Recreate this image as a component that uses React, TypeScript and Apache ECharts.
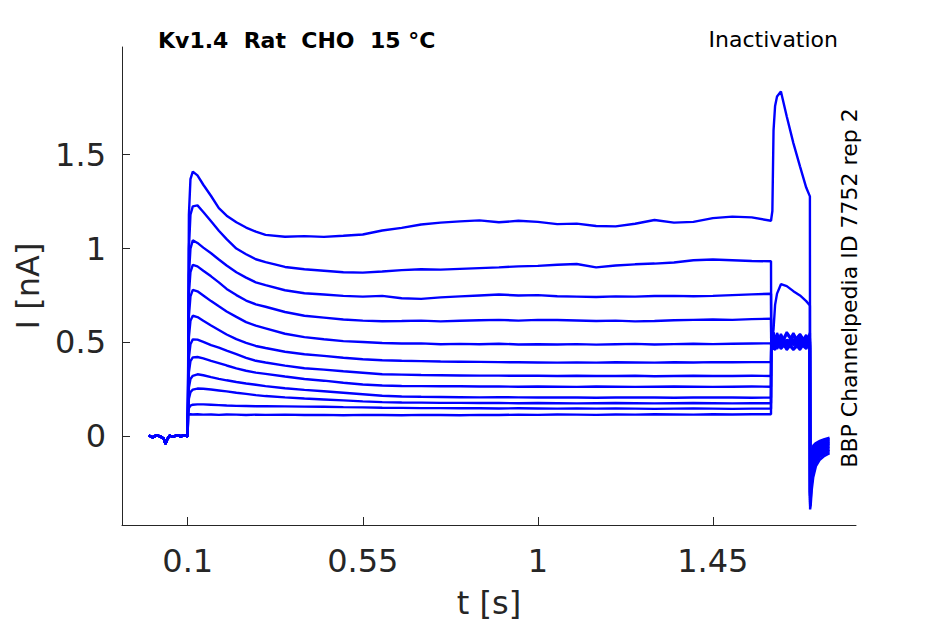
import React, { useEffect, useRef } from "react";
import * as echarts from "echarts";

// Axis ticks
const X_TICKS = [0.1, 0.55, 1, 1.45];
const Y_TICKS = [0, 0.5, 1, 1.5];

// Holding period (shared by all sweeps), t in s, I in nA
const BASE_T = [0, 0.01, 0.02, 0.03, 0.038, 0.043, 0.047, 0.053, 0.062, 0.072, 0.082, 0.092, 0.1];
const BASE_I = [0.004, -0.006, 0.006, -0.002, -0.012, -0.04, -0.018, 0.004, -0.004, 0.006, 0.0, 0.005, 0.0];

// Conditioning step
const STEP_T = [
  0.1005, 0.103, 0.107, 0.113, 0.125, 0.14, 0.16, 0.18, 0.2, 0.225, 0.25, 0.275, 0.3, 0.35, 0.4, 0.45,
  0.5, 0.55, 0.6, 0.65, 0.7, 0.75, 0.8, 0.85, 0.9, 0.95, 1.0, 1.05, 1.1, 1.15, 1.2, 1.25, 1.3, 1.35,
  1.4, 1.45, 1.5, 1.55, 1.5995,
];
const STEP_I = [
  [0.15, 1.18, 1.37, 1.41, 1.39, 1.34, 1.28, 1.215, 1.175, 1.14, 1.112, 1.09, 1.073, 1.063, 1.066, 1.062, 1.068, 1.075, 1.096, 1.11, 1.128, 1.138, 1.145, 1.15, 1.14, 1.148, 1.142, 1.13, 1.133, 1.12, 1.118, 1.132, 1.152, 1.138, 1.142, 1.162, 1.17, 1.166, 1.148],
  [0.14, 1.0, 1.18, 1.225, 1.23, 1.195, 1.145, 1.095, 1.05, 1.0, 0.97, 0.943, 0.928, 0.902, 0.89, 0.882, 0.874, 0.872, 0.878, 0.885, 0.89, 0.888, 0.892, 0.896, 0.9, 0.905, 0.908, 0.914, 0.918, 0.9, 0.91, 0.916, 0.92, 0.926, 0.938, 0.942, 0.938, 0.934, 0.932],
  [0.13, 0.86, 1.0, 1.044, 1.03, 1.005, 0.975, 0.942, 0.91, 0.874, 0.845, 0.82, 0.805, 0.778, 0.762, 0.755, 0.748, 0.744, 0.748, 0.735, 0.732, 0.74, 0.745, 0.75, 0.755, 0.75, 0.752, 0.746, 0.744, 0.742, 0.745, 0.744, 0.747, 0.748, 0.746, 0.748, 0.752, 0.756, 0.759],
  [0.13, 0.76, 0.875, 0.913, 0.905, 0.882, 0.852, 0.82, 0.785, 0.752, 0.723, 0.703, 0.69, 0.662, 0.642, 0.632, 0.622, 0.616, 0.613, 0.614, 0.616, 0.612, 0.615, 0.618, 0.62, 0.616, 0.62, 0.619, 0.617, 0.614, 0.616, 0.612, 0.614, 0.618, 0.62, 0.622, 0.62, 0.624, 0.626],
  [0.125, 0.64, 0.745, 0.78, 0.772, 0.75, 0.72, 0.692, 0.665, 0.636, 0.608, 0.589, 0.575, 0.546, 0.528, 0.517, 0.507, 0.502, 0.497, 0.494, 0.495, 0.49, 0.492, 0.49, 0.493, 0.489, 0.49, 0.489, 0.491, 0.488, 0.49, 0.492, 0.489, 0.491, 0.493, 0.491, 0.493, 0.494, 0.495],
  [0.12, 0.53, 0.615, 0.642, 0.635, 0.615, 0.59, 0.566, 0.542, 0.517, 0.497, 0.481, 0.47, 0.45, 0.437, 0.428, 0.418, 0.41, 0.405, 0.402, 0.4, 0.398, 0.397, 0.396, 0.395, 0.394, 0.393, 0.392, 0.393, 0.392, 0.394, 0.393, 0.392, 0.394, 0.393, 0.395, 0.394, 0.395, 0.395],
  [0.12, 0.42, 0.49, 0.516, 0.515, 0.503, 0.485, 0.472, 0.456, 0.437, 0.418, 0.402, 0.393, 0.376, 0.362, 0.355, 0.346, 0.338, 0.33, 0.328, 0.326, 0.325, 0.324, 0.323, 0.323, 0.322, 0.322, 0.321, 0.322, 0.321, 0.321, 0.322, 0.32, 0.321, 0.322, 0.321, 0.321, 0.322, 0.321],
  [0.118, 0.34, 0.4, 0.42, 0.422, 0.415, 0.402, 0.39, 0.377, 0.362, 0.349, 0.339, 0.332, 0.318, 0.305, 0.296, 0.285, 0.276, 0.27, 0.268, 0.267, 0.266, 0.266, 0.265, 0.265, 0.264, 0.265, 0.264, 0.263, 0.265, 0.264, 0.263, 0.264, 0.265, 0.264, 0.263, 0.264, 0.265, 0.264],
  [0.117, 0.26, 0.305, 0.322, 0.33, 0.325, 0.315, 0.306, 0.298, 0.289, 0.281, 0.274, 0.267, 0.256, 0.247, 0.24, 0.232, 0.224, 0.216, 0.212, 0.21, 0.209, 0.208, 0.207, 0.208, 0.207, 0.206, 0.207, 0.206, 0.205, 0.206, 0.207, 0.206, 0.205, 0.206, 0.207, 0.206, 0.205, 0.206],
  [0.116, 0.2, 0.235, 0.248, 0.254, 0.253, 0.249, 0.244, 0.239, 0.232, 0.226, 0.219, 0.214, 0.207, 0.201, 0.196, 0.191, 0.186, 0.182, 0.18, 0.179, 0.178, 0.178, 0.177, 0.177, 0.176, 0.177, 0.176, 0.175, 0.176, 0.177, 0.176, 0.175, 0.176, 0.177, 0.176, 0.175, 0.176, 0.176],
  [0.115, 0.15, 0.163, 0.168, 0.17, 0.17, 0.168, 0.166, 0.164, 0.162, 0.161, 0.16, 0.16, 0.159, 0.158, 0.157, 0.155, 0.154, 0.152, 0.151, 0.15, 0.15, 0.149, 0.149, 0.148, 0.149, 0.148, 0.147, 0.148, 0.147, 0.148, 0.147, 0.146, 0.147, 0.148, 0.147, 0.146, 0.147, 0.147],
  [0.112, 0.115, 0.117, 0.116, 0.117, 0.115, 0.116, 0.114, 0.116, 0.115, 0.113, 0.115, 0.114, 0.115, 0.113, 0.114, 0.112, 0.114, 0.113, 0.112, 0.114, 0.113, 0.112, 0.114, 0.113, 0.115, 0.114, 0.116, 0.115, 0.114, 0.116, 0.115, 0.117, 0.116, 0.115, 0.117, 0.116, 0.117, 0.117],
];

// Test pulse
const TEST_T = [1.6, 1.603, 1.606, 1.61, 1.615, 1.625, 1.64, 1.657, 1.674, 1.69, 1.6995];
const TEST_I = [
  [1.15, 1.2, 1.63, 1.76, 1.81, 1.837, 1.704, 1.562, 1.438, 1.325, 1.278],
  [0.5, 0.52, 0.57, 0.7, 0.76, 0.81, 0.8, 0.773, 0.75, 0.72, 0.697],
  [0.54, 0.48, 0.55, 0.5, 0.53, 0.48, 0.545, 0.5, 0.54, 0.485, 0.525],
  [0.5, 0.55, 0.49, 0.54, 0.48, 0.535, 0.49, 0.55, 0.485, 0.535, 0.5],
  [0.48, 0.525, 0.465, 0.515, 0.47, 0.52, 0.465, 0.515, 0.47, 0.525, 0.48],
  [0.525, 0.47, 0.52, 0.465, 0.525, 0.47, 0.515, 0.465, 0.52, 0.47, 0.515],
  [0.49, 0.54, 0.48, 0.53, 0.49, 0.545, 0.48, 0.535, 0.49, 0.54, 0.49],
  [0.47, 0.515, 0.46, 0.505, 0.465, 0.51, 0.46, 0.505, 0.46, 0.51, 0.47],
  [0.55, 0.495, 0.555, 0.5, 0.55, 0.495, 0.555, 0.505, 0.545, 0.495, 0.55],
  [0.465, 0.505, 0.47, 0.46, 0.505, 0.465, 0.5, 0.46, 0.495, 0.465, 0.505],
  [0.52, 0.485, 0.535, 0.49, 0.515, 0.525, 0.48, 0.53, 0.5, 0.52, 0.485],
  [0.505, 0.465, 0.51, 0.48, 0.525, 0.47, 0.515, 0.485, 0.53, 0.475, 0.505],
];

// Tail after repolarisation
const TAIL_T = [1.7, 1.7015, 1.704, 1.708, 1.715, 1.725, 1.737, 1.75];
const TAIL_I = [
  [-0.39, -0.37, -0.29, -0.22, -0.16, -0.125, -0.105, -0.09],
  [-0.37, -0.34, -0.26, -0.19, -0.14, -0.11, -0.094, -0.08],
  [-0.36, -0.32, -0.24, -0.17, -0.125, -0.1, -0.084, -0.072],
  [-0.35, -0.3, -0.22, -0.155, -0.115, -0.09, -0.075, -0.064],
  [-0.34, -0.29, -0.2, -0.14, -0.104, -0.082, -0.066, -0.056],
  [-0.33, -0.27, -0.185, -0.128, -0.094, -0.073, -0.058, -0.048],
  [-0.32, -0.26, -0.17, -0.114, -0.083, -0.064, -0.05, -0.04],
  [-0.32, -0.25, -0.16, -0.102, -0.074, -0.056, -0.043, -0.033],
  [-0.31, -0.23, -0.14, -0.088, -0.064, -0.048, -0.036, -0.027],
  [-0.31, -0.22, -0.13, -0.076, -0.055, -0.04, -0.029, -0.021],
  [-0.3, -0.21, -0.11, -0.063, -0.045, -0.032, -0.022, -0.015],
  [-0.3, -0.2, -0.1, -0.05, -0.036, -0.025, -0.015, -0.008],
];

const FONT = "DejaVu Sans";
const AXIS_COLOR = "#262626";
const TRACE_COLOR = "#0000ff";

function buildSeries() {
  return STEP_I.map((row, k) => ({
    type: "line",
    name: "sweep " + (k + 1),
    data: [
      ...BASE_T.map((t, i) => [t, BASE_I[i]]),
      ...STEP_T.map((t, i) => [t, row[i]]),
      ...TEST_T.map((t, i) => [t, TEST_I[k][i]]),
      ...TAIL_T.map((t, i) => [t, TAIL_I[k][i]]),
    ],
    showSymbol: false,
    symbol: "none",
    silent: true,
    lineStyle: { color: TRACE_COLOR, width: 2.4 },
    itemStyle: { color: TRACE_COLOR },
  }));
}

export default function App() {
  const ref = useRef<HTMLDivElement>(null);
  useEffect(() => {
    if (!ref.current) return;
    const chart = echarts.init(ref.current, null, { renderer: "svg" });
    chart.setOption({
      animation: false,
      backgroundColor: "#ffffff",
      grid: { left: 122, right: 89, top: 47, bottom: 98, containLabel: false },
      xAxis: {
        type: "value",
        min: -0.069,
        max: 1.818,
        name: "t [s]",
        nameLocation: "middle",
        nameGap: 62,
        nameTextStyle: { fontSize: 32, color: AXIS_COLOR, fontFamily: FONT },
        axisLine: { show: true, onZero: false, lineStyle: { color: AXIS_COLOR, width: 1 } },
        axisTick: { show: true, inside: true, length: 8, customValues: X_TICKS, lineStyle: { color: AXIS_COLOR } },
        axisLabel: { customValues: X_TICKS, fontSize: 32, color: AXIS_COLOR, margin: 20, fontFamily: FONT },
        splitLine: { show: false },
      },
      yAxis: {
        type: "value",
        min: -0.473,
        max: 2.074,
        name: "I [nA]",
        nameLocation: "middle",
        nameGap: 78,
        nameRotate: 90,
        nameTextStyle: { fontSize: 32, color: AXIS_COLOR, fontFamily: FONT },
        axisLine: { show: true, onZero: false, lineStyle: { color: AXIS_COLOR, width: 1 } },
        axisTick: { show: true, inside: true, length: 8, customValues: Y_TICKS, lineStyle: { color: AXIS_COLOR } },
        axisLabel: { customValues: Y_TICKS, fontSize: 32, color: AXIS_COLOR, margin: 16, fontFamily: FONT },
        splitLine: { show: false },
      },
      graphic: [
        {
          type: "text",
          x: 158,
          y: 40,
          style: {
            text: "Kv1.4  Rat  CHO  15 °C",
            fontSize: 22,
            fontWeight: "bold",
            fontFamily: FONT,
            fill: "#000000",
            align: "left",
            verticalAlign: "middle",
          },
        },
        {
          type: "text",
          x: 838,
          y: 39,
          style: {
            text: "Inactivation",
            fontSize: 22,
            fontFamily: FONT,
            fill: "#000000",
            align: "right",
            verticalAlign: "middle",
          },
        },
        {
          type: "text",
          x: 849,
          y: 288,
          rotation: Math.PI / 2,
          style: {
            text: "BBP Channelpedia ID 7752 rep 2",
            fontSize: 22,
            fontFamily: FONT,
            fill: "#000000",
            align: "center",
            verticalAlign: "middle",
          },
        },
      ],
      series: buildSeries(),
    });
    return () => chart.dispose();
  }, []);
  return <div ref={ref} style={{ position: "fixed", left: 0, top: 0, width: 945, height: 624 }} />;
}
